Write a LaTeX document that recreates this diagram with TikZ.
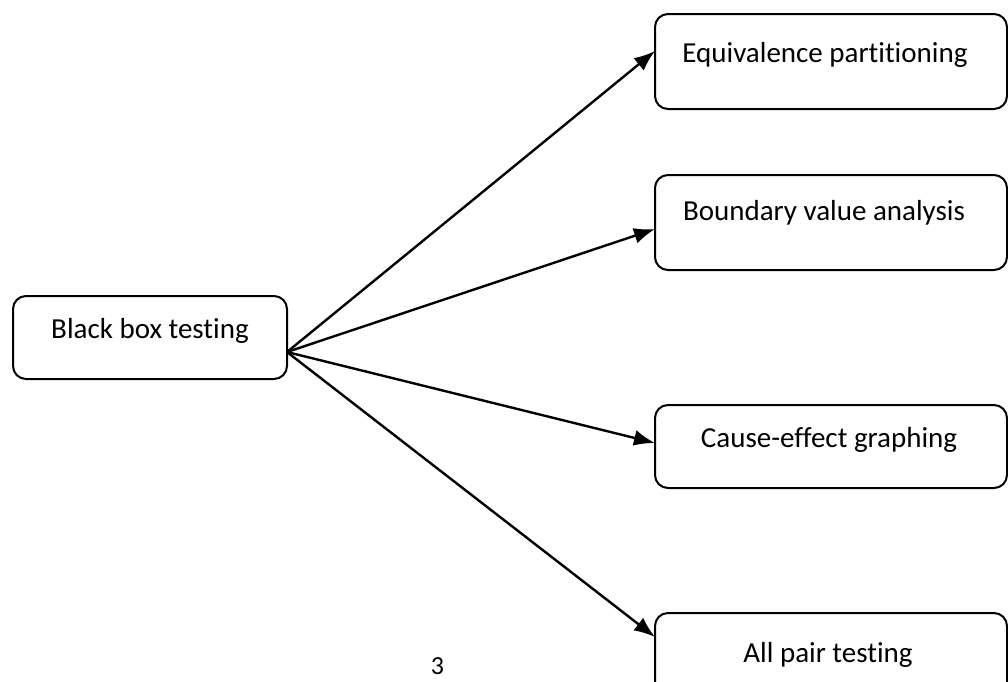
\documentclass[tikz,border=0pt]{standalone}
\usepackage{fontspec}
\setmainfont{Carlito}[Ligatures=NoCommon]
\usetikzlibrary{arrows.meta}
\tikzset{
  box/.style={draw, line width=2pt, rounded corners=13pt, inner sep=0pt, outer sep=0pt,
    minimum width=352pt, font=\fontsize{29}{34}\selectfont, align=center},
  conn/.style={line width=2.4pt, -{Latex[length=21pt,width=16pt]}}
}
\begin{document}
\begin{tikzpicture}[x=1pt,y=-1pt]
\useasboundingbox (0,0) rectangle (1008,681);
\node[box, minimum width=274pt, minimum height=83pt, text height=42pt, text depth=41pt] (bb) at (150,337.5) {Black box testing};
\node[box, minimum height=95pt, text height=48pt, text depth=47pt] (eq) at (831,61.5) {\hspace*{-12pt}Equivalence partitioning};
\node[box, minimum height=95pt, text height=45pt, text depth=50pt] (bv) at (831,222.5) {\hspace*{-14pt}Boundary value analysis};
\node[box, minimum height=83pt, text height=42pt, text depth=41pt] (ce) at (831,446.5) {\hspace*{-4pt}Cause-effect graphing};
\node[box, minimum height=95pt, text height=49pt, text depth=46pt] (ap) at (831,660.5) {\hspace*{-6pt}All pair testing};
\node[font=\fontsize{26}{30}\selectfont, inner sep=0pt, anchor=base] (pg) at (437.5,674) {3};
\coordinate (o) at ([yshift=-14.5pt]bb.east);
\draw[conn] (o) -- ([yshift=10.5pt]eq.west);
\draw[conn] (o) -- ([yshift=-6.5pt]bv.west);
\draw[conn] (o) -- ([yshift=3.5pt]ce.west);
\draw[conn] (o) -- ([yshift=23.5pt]ap.west);
\end{tikzpicture}
\end{document}
